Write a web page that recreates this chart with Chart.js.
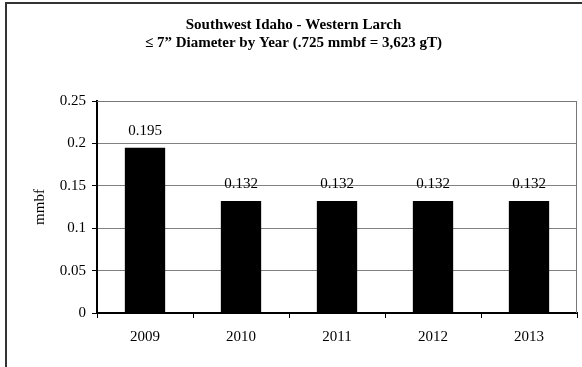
<!DOCTYPE html>
<html>
<head>
<meta charset="utf-8">
<script src="https://cdn.jsdelivr.net/npm/chart.js@4"></script>
<style>
  html, body { margin: 0; padding: 0; background: #fff; }
  #wrap { width: 582px; height: 367px; }
</style>
</head>
<body>
<div id="wrap"><canvas id="larchChart" width="582" height="367"></canvas></div>
<script>
// Chart data
const years = ["2009", "2010", "2011", "2012", "2013"];
const volumes = [0.195, 0.132, 0.132, 0.132, 0.132];
const yTicks = [0, 0.05, 0.1, 0.15, 0.2, 0.25];
const titleLines = ["Southwest Idaho - Western Larch", "\u2264 7\u201d Diameter by Year (.725 mmbf = 3,623 gT)"];

const serif = "'Liberation Serif', 'Times New Roman', serif";

// Outer frame + plot box
const framePlugin = {
  id: "frame",
  beforeDraw(chart) {
    const ctx = chart.ctx;
    ctx.save();
    ctx.fillStyle = "#fff";
    ctx.fillRect(0, 0, chart.width, chart.height);
    ctx.strokeStyle = "#333";
    ctx.lineWidth = 2;
    ctx.beginPath();
    ctx.moveTo(6, chart.height + 2);
    ctx.lineTo(6, 3);
    ctx.lineTo(chart.width + 2, 3);
    ctx.stroke();
    ctx.restore();
  },
  afterDatasetsDraw(chart) {
    const a = chart.chartArea;
    const ctx = chart.ctx;
    ctx.save();
    ctx.strokeStyle = "#777";
    ctx.lineWidth = 1;
    ctx.beginPath();
    ctx.moveTo(a.left, a.top + 0.5);
    ctx.lineTo(a.right - 0.5, a.top + 0.5);
    ctx.lineTo(a.right - 0.5, a.bottom);
    ctx.stroke();
    ctx.restore();
  }
};

// Value labels above the bars
const valueLabels = {
  id: "valueLabels",
  afterDatasetsDraw(chart) {
    const ctx = chart.ctx;
    const meta = chart.getDatasetMeta(0);
    ctx.save();
    ctx.font = "15px " + serif;
    ctx.fillStyle = "#000";
    ctx.textAlign = "center";
    ctx.textBaseline = "middle";
    meta.data.forEach((bar, i) => {
      ctx.fillText(String(volumes[i]), bar.x, bar.y - 17);
    });
    ctx.restore();
  }
};

new Chart(document.getElementById("larchChart"), {
  type: "bar",
  data: {
    labels: years,
    datasets: [{
      data: volumes,
      backgroundColor: "#000",
      borderWidth: 0,
      categoryPercentage: 1,
      barPercentage: 0.42
    }]
  },
  options: {
    responsive: false,
    animation: false,
    devicePixelRatio: 1,
    layout: { padding: { left: 10, right: 5, top: 0, bottom: 0 } },
    plugins: {
      legend: { display: false },
      tooltip: { enabled: false },
      title: {
        display: true,
        text: titleLines,
        color: "#000",
        font: { family: serif, size: 15, weight: "bold", lineHeight: "18px" },
        padding: { top: 16, bottom: 49 }
      }
    },
    scales: {
      x: {
        grid: {
          display: true,
          drawOnChartArea: false,
          drawTicks: true,
          tickLength: 5,
          tickColor: "#000",
          offset: true
        },
        border: { color: "#000", width: 2 },
        ticks: {
          color: "#000",
          font: { family: serif, size: 15 },
          padding: 10
        },
        afterFit(scale) { scale.height = 54; }
      },
      y: {
        min: 0,
        max: 0.25,
        afterBuildTicks(scale) {
          scale.ticks = yTicks.map(v => ({ value: v }));
        },
        ticks: {
          color: "#000",
          font: { family: serif, size: 15 },
          padding: 6,
          callback: v => String(Math.round(v * 100) / 100)
        },
        grid: {
          color: "#808080",
          tickColor: "#000",
          tickLength: 5
        },
        border: { color: "#000", width: 2 },
        title: {
          display: true,
          text: "mmbf",
          color: "#000",
          font: { family: serif, size: 15 },
          padding: { top: 21, bottom: 0 }
        },
        afterFit(scale) { scale.width = 87; }
      }
    }
  },
  plugins: [framePlugin, valueLabels]
});
</script>
</body>
</html>
